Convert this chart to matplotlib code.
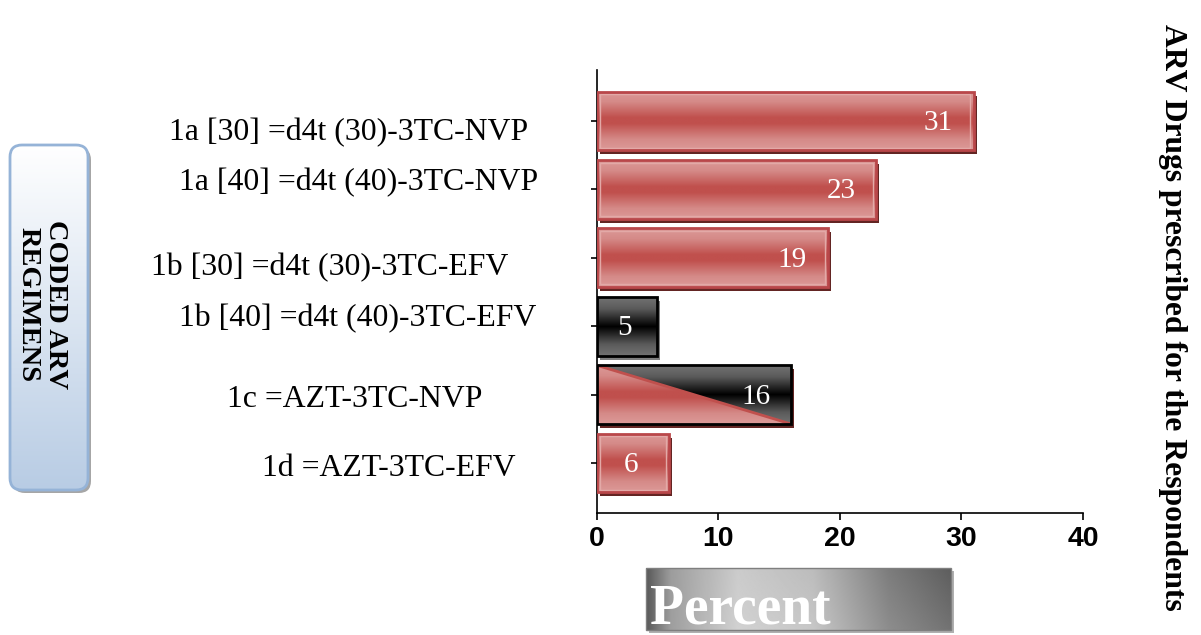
import numpy as np
import matplotlib
matplotlib.use("Agg")
import matplotlib.pyplot as plt
from matplotlib.colors import LinearSegmentedColormap
from matplotlib.patches import Rectangle, Polygon, FancyBboxPatch
from matplotlib.transforms import ScaledTranslation

# ---------------- data ----------------
categories = [
    "1a [30] =d4t (30)-3TC-NVP",
    "1a [40] =d4t (40)-3TC-NVP",
    "1b [30] =d4t (30)-3TC-EFV",
    "1b [40] =d4t (40)-3TC-EFV",
    "1c =AZT-3TC-NVP",
    "1d =AZT-3TC-EFV",
]
values = [31, 23, 19, 5, 16, 6]
bar_styles = ["red", "red", "red", "black", "split", "red"]
xticks = [0, 10, 20, 30, 40]
x_title = "Percent"
y_title = "CODED ARV\nREGIMENS"
side_title = "ARV Drugs prescribed for the Respondents"

W, H = 1201, 635
DPI = 100
fig = plt.figure(figsize=(W / DPI, H / DPI), dpi=DPI)
fig.patch.set_facecolor("white")

SERIF = ["Liberation Serif", "DejaVu Serif"]
SANS = ["Liberation Sans", "DejaVu Sans"]

ax = fig.add_axes([596.5 / W, 1 - 513 / H, (1083 - 596.5) / W, (513 - 70) / H])
ax.set_facecolor("none")

red_cmap = LinearSegmentedColormap.from_list(
    "r", [(0, "#dc9a98"), (0.18, "#d58a88"), (0.45, "#c0504d"), (0.55, "#c0504d"),
          (0.82, "#d58a88"), (1, "#dc9a98")])
blk_cmap = LinearSegmentedColormap.from_list(
    "k", [(0, "#737373"), (0.2, "#5a5a5a"), (0.5, "#000000"), (0.8, "#5a5a5a"), (1, "#737373")])
grad = np.linspace(0, 1, 256).reshape(-1, 1)

bh = 0.86
ypos = np.arange(len(categories))
shadow_off = ScaledTranslation(3 / DPI, -4 / DPI, fig.dpi_scale_trans)

for y, v, st in zip(ypos, values, bar_styles):
    y0, y1 = y - bh / 2, y + bh / 2
    sh_col = "#808080" if st == "black" else "#632523"
    shadow = Rectangle((0, y0), v, bh, transform=ax.transData + shadow_off,
                       facecolor=sh_col, edgecolor="none", zorder=1)
    ax.add_patch(shadow)
    if st == "split":
        tri_blk = Polygon([(0, y0), (v, y0), (v, y1)], closed=True,
                          facecolor="none", edgecolor="none", zorder=2)
        tri_red = Polygon([(0, y0), (0, y1), (v, y1)], closed=True,
                          facecolor="none", edgecolor="none", zorder=2)
        ax.add_patch(tri_blk)
        ax.add_patch(tri_red)
        im1 = ax.imshow(grad, extent=(0, v, y1, y0), aspect="auto", cmap=blk_cmap,
                        origin="upper", zorder=2, interpolation="bilinear")
        im1.set_clip_path(tri_blk)
        im2 = ax.imshow(grad, extent=(0, v, y1, y0), aspect="auto", cmap=red_cmap,
                        origin="upper", zorder=2, interpolation="bilinear")
        im2.set_clip_path(tri_red)
        ax.plot([0, v], [y0, y1], color="#c0504d", lw=2, zorder=3)
        ax.add_patch(Rectangle((0, y0), v, bh, facecolor="none",
                               edgecolor="black", lw=2, zorder=4))
    else:
        cmap = blk_cmap if st == "black" else red_cmap
        ec = "black" if st == "black" else "#b9474a"
        rect = Rectangle((0, y0), v, bh, facecolor="none", edgecolor="none", zorder=2)
        ax.add_patch(rect)
        im = ax.imshow(grad, extent=(0, v, y1, y0), aspect="auto", cmap=cmap,
                       origin="upper", zorder=2, interpolation="bilinear")
        im.set_clip_path(rect)
        if st == "red":
            ax.add_patch(Rectangle((0.25, y0 + 0.04), v - 0.5, bh - 0.08, facecolor="none",
                                   edgecolor="#e3a9a7", lw=1.0, zorder=3))
        ax.add_patch(Rectangle((0, y0), v, bh, facecolor="none",
                               edgecolor=ec, lw=2, zorder=4))

for y, v in zip(ypos, values):
    lab = f"{v:g}"
    if v > 10:
        ax.text(v - 1.7, y + 0.03, lab, ha="right", va="center", color="white",
                fontsize=21, family=SERIF, zorder=5)
    else:
        ax.text(v / 2 - 0.2, y + 0.03, lab, ha="center", va="center", color="white",
                fontsize=21, family=SERIF, zorder=5)

ax.set_xlim(0, 40)
ax.set_ylim(5 + 50 / 68.4, -51 / 68.4)
ax.set_xticks(xticks)
ax.set_xticklabels([str(t) for t in xticks], fontsize=20.5, fontweight="bold", family=SANS)
ax.set_yticks(ypos)
ax.set_yticklabels([])
ax.tick_params(axis="x", direction="out", length=5, width=1.2, pad=4, colors="black")
ax.tick_params(axis="y", direction="out", length=4, width=1.2, colors="black")
for s in ["top", "right"]:
    ax.spines[s].set_visible(False)
for s in ["left", "bottom"]:
    ax.spines[s].set_linewidth(1.2)
    ax.spines[s].set_color("black")

# category labels (placed as in the reference text boxes)
label_pos = [(169, 140), (179, 190), (151, 275), (179, 326), (227, 407), (262, 476)]
for (px, py), cat in zip(label_pos, categories):
    fig.text(px / W, 1 - py / H, cat, ha="left", va="baseline",
             fontsize=22.9, family=SERIF, color="black")

# ---------- left rounded box with gradient ----------
bx0, by0, bw, bhh = 10, 145, 78, 345  # pixels (bottom origin)
shadow_box = FancyBboxPatch(((bx0 + 3) / DPI, (by0 - 3) / DPI), bw / DPI, bhh / DPI,
                            boxstyle="round,pad=0,rounding_size=0.12",
                            transform=fig.dpi_scale_trans, facecolor="#a6a6a6",
                            edgecolor="none", zorder=0)
fig.add_artist(shadow_box)
bax = fig.add_axes([bx0 / W, by0 / H, bw / W, bhh / H])
bax.axis("off")
blue_cmap = LinearSegmentedColormap.from_list("b", ["#ffffff", "#b8cce4"])
bim = bax.imshow(grad, extent=(0, 1, 0, 1), aspect="auto", cmap=blue_cmap, origin="upper")
bax.set_xlim(0, 1); bax.set_ylim(0, 1)
box = FancyBboxPatch((bx0 / DPI, by0 / DPI), bw / DPI, bhh / DPI,
                     boxstyle="round,pad=0,rounding_size=0.12",
                     transform=fig.dpi_scale_trans, facecolor="none",
                     edgecolor="#95b3d7", lw=2, zorder=5)
fig.add_artist(box)
bim.set_clip_path(box)
fig.text(42 / W, 1 - 305 / H, y_title, rotation=-90, ha="center", va="center",
         multialignment="center", fontsize=20.5, fontweight="bold", family=SERIF,
         linespacing=1.1, zorder=6)

# ---------- Percent box ----------
px0, py0, pw, ph = 646, 5, 305, 62
fig.add_artist(Rectangle(((px0 + 3) / DPI, (py0 - 3) / DPI), pw / DPI, ph / DPI,
                         transform=fig.dpi_scale_trans, facecolor="#b0b0b0",
                         edgecolor="none", zorder=0))
pax = fig.add_axes([px0 / W, py0 / H, pw / W, ph / H])
pax.axis("off")
xx = np.linspace(0, 1, 300)
yy = np.linspace(0, 1, 60)
X, Y = np.meshgrid(xx, yy)
prof = np.interp(X, [0, 0.08, 0.3, 0.55, 0.8, 1.0], [0.35, 0.62, 0.82, 0.78, 0.55, 0.45])
prof = prof - 0.08 * (1 - Y) * X
pax.imshow(prof, extent=(0, 1, 0, 1), aspect="auto", cmap="gray", vmin=0, vmax=1,
           origin="upper", interpolation="bilinear")
pax.set_xlim(0, 1); pax.set_ylim(0, 1)
fig.add_artist(Rectangle((px0 / DPI, py0 / DPI), pw / DPI, ph / DPI,
                         transform=fig.dpi_scale_trans, facecolor="none",
                         edgecolor="#7f7f7f", lw=1, zorder=5))
fig.text(650 / W, 12 / H, x_title, ha="left", va="baseline", color="white",
         fontsize=40, fontweight="bold", family=SERIF, zorder=6)

# ---------- right side title ----------
fig.text(1172 / W, 1 - 317 / H, side_title, rotation=-90, ha="center", va="center",
         fontsize=22.8, fontweight="bold", family=SERIF)

fig.savefig("out.png", dpi=DPI, facecolor="white")
